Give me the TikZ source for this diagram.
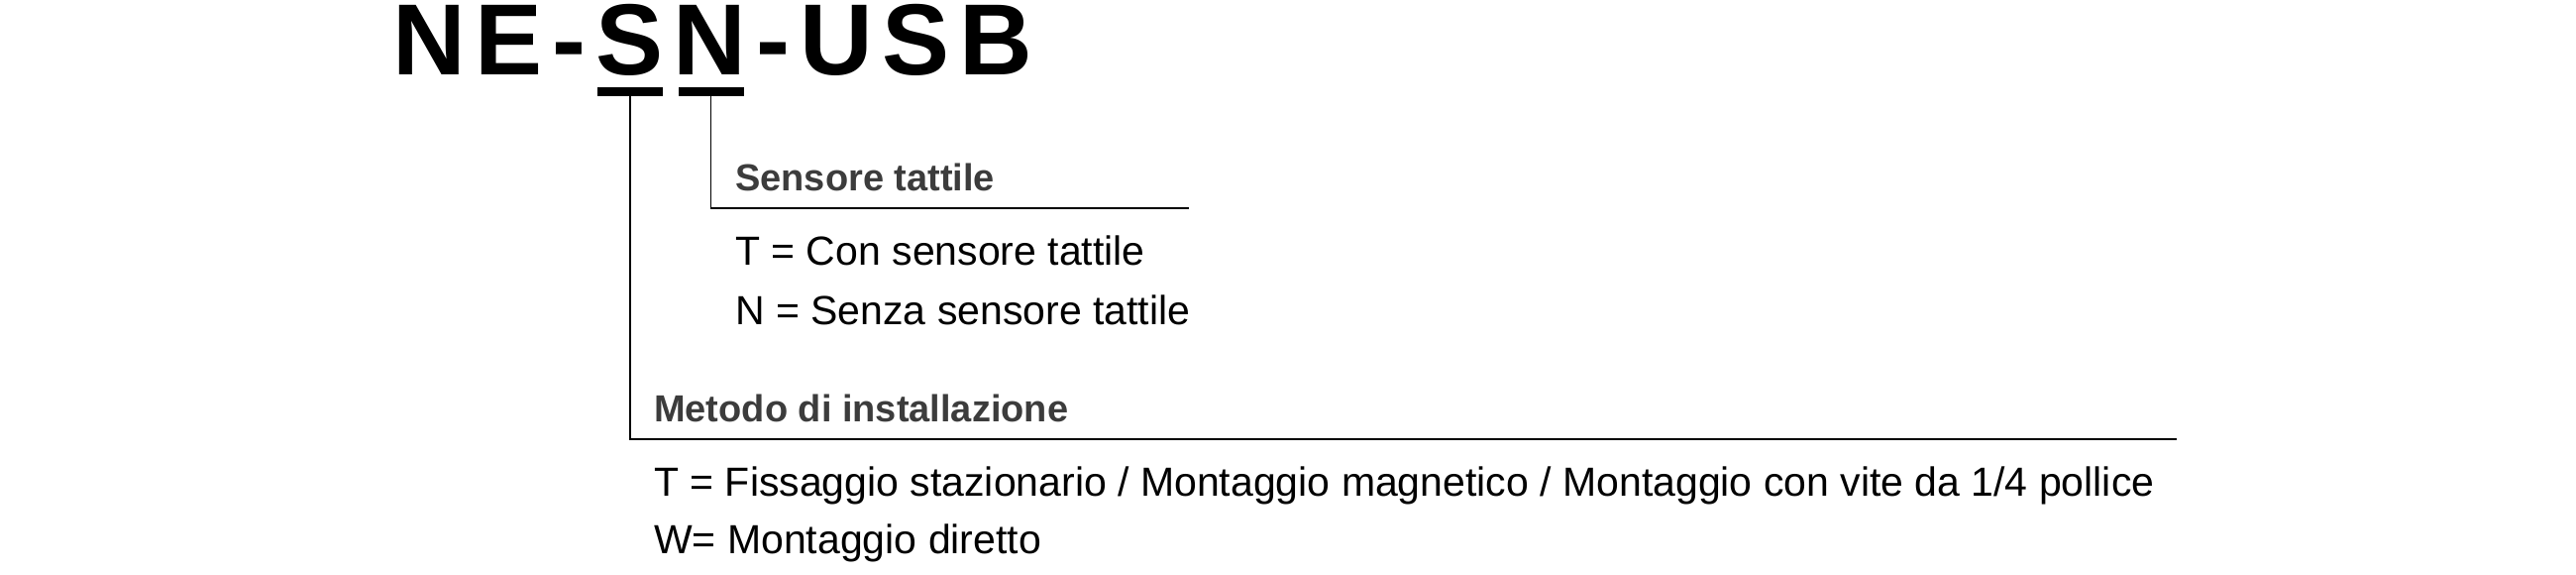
\documentclass[tikz,border=0pt]{standalone}
\usepackage{fontspec}
\setmainfont{Liberation Sans}
\newfontfamily\codefont[LetterSpace=9.6]{Liberation Sans Bold}
\usetikzlibrary{positioning}
\definecolor{headgray}{HTML}{3C3C3C}

\begin{document}
\begin{tikzpicture}[x=1pt,y=-1pt,
    code/.style={font=\codefont\fontsize{102}{102}\selectfont,inner sep=0pt,anchor=base west},
    ulbar/.style={fill=black,inner sep=0pt,minimum height=9pt,minimum width=66pt},
    head/.style={font=\bfseries\fontsize{38}{38}\selectfont,text=headgray,inner sep=0pt,anchor=base west},
    opt/.style={font=\fontsize{41}{41}\selectfont,inner sep=0pt,anchor=base west},
    lead/.style={line width=1.6pt}]
    \useasboundingbox (0,0) rectangle (2600,580);

    \node[code] (ne) at (396,76) {NE-};
    \node[code] (s)   [base right=9.8pt of ne] {S};
    \node[code] (n)   [base right=9.8pt of s] {N};
    \node[code] (usb) [base right=9.8pt of n] {-USB};

    \node[ulbar] (sbar) at (636,92.5) {};
    \node[ulbar] (nbar) at (717.5,92.5) {};

    \node[head] (sensor) at (742,193) {Sensore tattile};
    \node[opt]  (sensT)  at (742,267) {T = Con sensore tattile};
    \node[opt]  (sensN)  at (742,327) {N = Senza sensore tattile};

    \node[head] (mount)  at (660,425) {Metodo di installazione};
    \node[opt]  (mountT) at (660,500) {T = Fissaggio stazionario / Montaggio magnetico / Montaggio con vite da 1/4 pollice};
    \node[opt]  (mountW) at (660,558) {W= Montaggio diretto};

    \coordinate (sensend)  at (1200,210);
    \coordinate (mountend) at (2197,443);

    \draw[lead] (nbar.south) |- (sensend);
    \draw[lead] (sbar.south) |- (mountend);
\end{tikzpicture}
\end{document}
